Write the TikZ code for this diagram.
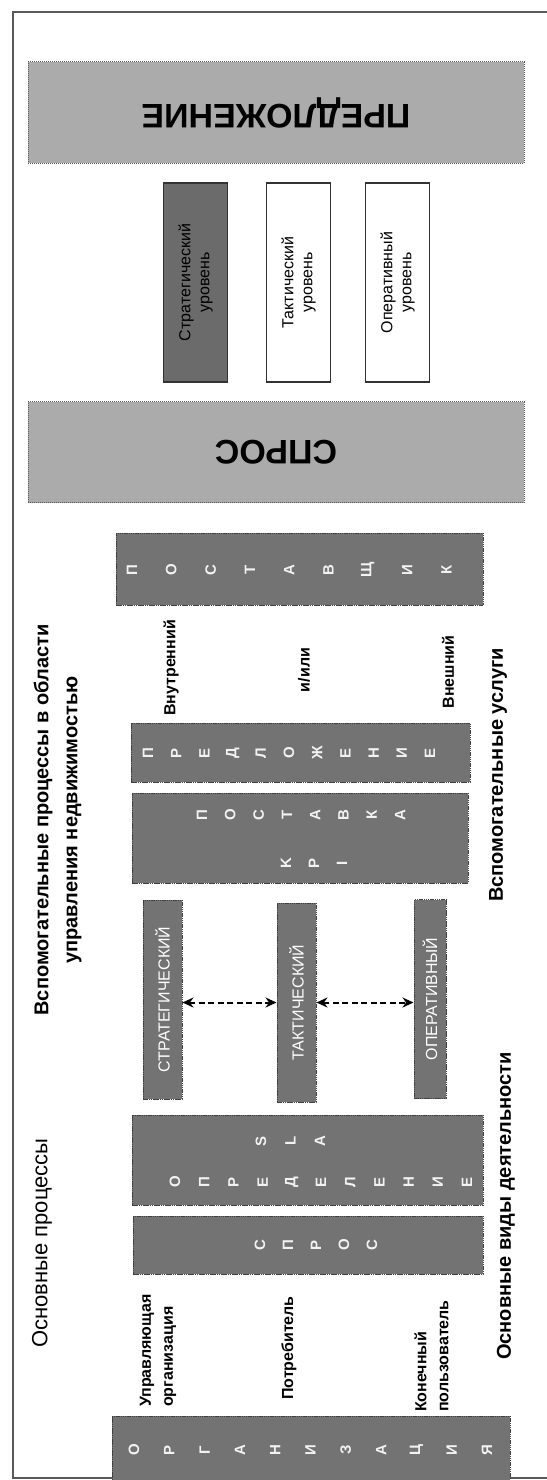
\documentclass[tikz,border=0pt]{standalone}
\usepackage{fontspec}
\setmainfont{Liberation Sans}
\usetikzlibrary{arrows.meta}

\begin{document}
\begin{tikzpicture}[x=1pt, y=-1pt,
        bigbox/.style={draw=black!65, fill=black!33, line width=1pt, dash pattern=on 1pt off 1pt, rotate=180,
            minimum width=496pt, minimum height=101pt, font=\bfseries\fontsize{34}{40}\selectfont},
        darkbox/.style={draw=black!75, fill=black!55, line width=1pt, dash pattern=on 1.5pt off 0.7pt},
        lvlbox/.style={draw=black!80, line width=1.3pt, rotate=90, minimum width=199pt, minimum height=64pt,
            align=center, font=\fontsize{16}{19}\selectfont},
        midbox/.style={darkbox, rotate=90, minimum width=199pt, text=white, font=\fontsize{16}{16}\selectfont},
        ltr/.style={rotate=90, inner sep=0pt, text=black!5, font=\bfseries\fontsize{15}{15}\selectfont},
        lbl/.style={rotate=90, align=left, inner sep=0pt, font=\bfseries\fontsize{16}{22}\selectfont},
        head/.style={rotate=90, align=center, font=\bfseries\fontsize{20}{29}\selectfont},
        lnk/.style={line width=2pt, dash pattern=on 6pt off 3.5pt,
            {Stealth[length=11pt,width=10pt]}-{Stealth[length=11pt,width=10pt]}}]
        \useasboundingbox (0,0) rectangle (546,1480);
        \draw[black!65, line width=1.3pt] (13,12) rectangle (560,1478);

        \node[bigbox] (supply) at (276,112.5) {ПРЕДЛОЖЕНИЕ};
        \node[lvlbox, fill=black!58] (strat) at (195.5,282.5) {Стратегический\\уровень};
        \node[lvlbox, fill=white] (tact) at (298.5,282.5) {Тактический\\уровень};
        \node[lvlbox, fill=white] (oper) at (397.5,282.5) {Оперативный\\уровень};
        \node[bigbox] (demand) at (276,452) {СПРОС};

        \node[darkbox, minimum width=367pt, minimum height=72pt] (supplier) at (299.5,569) {};
        \foreach \c [count=\i from 0] in {П,О,С,Т,А,В,Щ,И,К}
            \node[ltr] (supplier-\i) at (132+39.3*\i,570) {\c};

        \node[lbl] (intern) at (171,668) {Внутренний};
        \node[lbl] (andor) at (304,670) {и/или};
        \node[lbl] (extern) at (448,672) {Внешний};

        \node[darkbox, minimum width=339pt, minimum height=59pt] (offer) at (300.5,752.5) {};
        \foreach \c [count=\i from 0] in {П,Р,Е,Д,Л,О,Ж,Е,Н,И,Е}
            \node[ltr] (offer-\i) at (148+28.2*\i,753) {\c};

        \node[darkbox, minimum width=336pt, minimum height=90pt] (deliver) at (300,838) {};
        \foreach \c [count=\i from 0] in {П,О,С,Т,А,В,К,А}
            \node[ltr] (deliver-\i) at (202+28.3*\i,815) {\c};
        \foreach \c [count=\i from 0] in {K,P,I}
            \node[ltr] (kpi-\i) at (286+28*\i,863) {\c};

        \node[midbox, minimum height=39pt] (strat2) at (162.5,999.5) {СТРАТЕГИЧЕСКИЙ};
        \node[midbox, minimum height=39pt] (tact2) at (296.5,1002.5) {ТАКТИЧЕСКИЙ};
        \node[midbox, minimum height=32pt] (oper2) at (430,999) {ОПЕРАТИВНЫЙ};
        \draw[lnk] (strat2.south |- tact2) -- (tact2.north);
        \draw[lnk] (tact2.south) -- (oper2.north |- tact2);

        \node[darkbox, minimum width=351pt, minimum height=90pt] (define) at (307.5,1160) {};
        \foreach \c [count=\i from 0] in {S,L,A}
            \node[ltr] (sla-\i) at (261+29.5*\i,1141) {\c};
        \foreach \c [count=\i from 0] in {О,П,Р,Е,Д,Е,Л,Е,Н,И,Е}
            \node[ltr] (define-\i) at (175+29.2*\i,1182) {\c};

        \node[darkbox, minimum width=350pt, minimum height=58pt] (request) at (308,1245) {};
        \foreach \c [count=\i from 0] in {С,П,Р,О,С}
            \node[ltr] (request-\i) at (260+28*\i,1245) {\c};

        \node[lbl, anchor=west] (manager) at (158,1407) {Управляющая\\организация};
        \node[lbl, anchor=west] (consumer) at (289,1400) {Потребитель};
        \node[lbl, anchor=west] (enduser) at (431.5,1412) {Конечный\\пользователь};

        \node[darkbox, minimum width=398pt, minimum height=72pt] (org) at (311,1452) {};
        \foreach \c [count=\i from 0] in {О,Р,Г,А,Н,И,З,А,Ц,И,Я}
            \node[ltr] (org-\i) at (134+35.3*\i,1450) {\c};

        \node[head] (auxproc) at (57.5,820) {Вспомогательные процессы в области\\управления недвижимостью};
        \node[head, font=\fontsize{22}{26}\selectfont] (mainproc) at (42,1243) {Основные процессы};
        \node[head] (auxserv) at (498,775) {Вспомогательные услуги};
        \node[head] (mainact) at (506,1206) {Основные виды деятельности};
    \end{tikzpicture}
\end{document}
